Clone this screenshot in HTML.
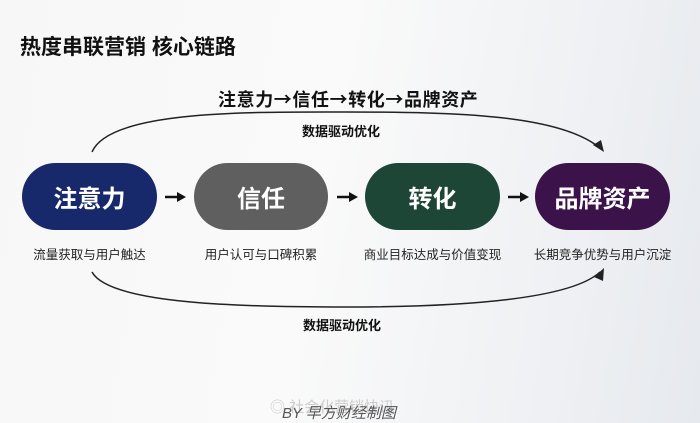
<!DOCTYPE html>
<html><head><meta charset="utf-8"><style>
body{margin:0;width:700px;height:423px;overflow:hidden;position:relative;font-family:"Liberation Sans","Noto Sans CJK SC",sans-serif;background:linear-gradient(100deg,#f7f7f8 0%,#fafafa 45%,#eef0f3 80%,#e6e9ee 100%);}
.t{position:absolute;white-space:nowrap;font-weight:bold;color:#111;}
.pill{position:absolute;top:163px;height:67px;border-radius:34px;color:#fff;font-weight:bold;font-size:24px;display:flex;align-items:center;justify-content:center;}
.lab{position:absolute;top:244px;font-size:12.5px;color:#222;white-space:nowrap;text-align:center;}
</style></head><body>
<div class="t" style="left:20px;top:31px;font-size:21px;">热度串联营销 核心链路</div>
<div class="t" style="left:218px;top:86px;font-size:18px;font-family:'Noto Sans CJK SC',sans-serif;letter-spacing:0.6px;">注意力→信任→转化→品牌资产</div>
<svg style="position:absolute;left:0;top:0" width="700" height="423">
<path d="M92 152 C110 110,250 112,345 112 C460 112,560 115,600 148" fill="none" stroke="#222" stroke-width="1.5"/>
<polygon points="593,145 604,152 601,140" fill="#222"/>
<path d="M92 272 C110 305,250 307,345 307 C460 307,570 300,600 272" fill="none" stroke="#222" stroke-width="1.5"/>
<polygon points="594,277 604,268 603,281" fill="#222"/>
<g stroke="#111" stroke-width="2.5" fill="#111">
<line x1="165" y1="197" x2="180" y2="197"/><polygon points="177,192 186,197 177,202" stroke="none"/>
<line x1="337" y1="197" x2="352" y2="197"/><polygon points="349,192 358,197 349,202" stroke="none"/>
<line x1="508" y1="197" x2="523" y2="197"/><polygon points="520,192 529,197 520,202" stroke="none"/>
</g>
</svg>
<div class="t" style="left:302px;top:121px;font-size:13px;">数据驱动优化</div>
<div class="t" style="left:303px;top:315px;font-size:13px;">数据驱动优化</div>
<div class="pill" style="left:22px;width:135px;background:#17296a;">注意力</div>
<div class="pill" style="left:194px;width:134px;background:#5f5f5f;">信任</div>
<div class="pill" style="left:365px;width:135px;background:#1d4637;">转化</div>
<div class="pill" style="left:535px;width:135px;background:#3b1249;">品牌资产</div>
<div class="lab" style="left:22px;width:135px;">流量获取与用户触达</div>
<div class="lab" style="left:190px;width:142px;">用户认可与口碑积累</div>
<div class="lab" style="left:355px;width:155px;">商业目标达成与价值变现</div>
<div class="lab" style="left:525px;width:155px;">长期竞争优势与用户沉淀</div>
<div style="position:absolute;left:270px;top:396px;font-size:15px;color:#ccc;white-space:nowrap;">◎ 社会化营销快讯</div>
<div style="position:absolute;left:282px;top:402px;font-size:15px;color:#555;font-style:italic;white-space:nowrap;">BY 早方财经制图</div>
</body></html>
